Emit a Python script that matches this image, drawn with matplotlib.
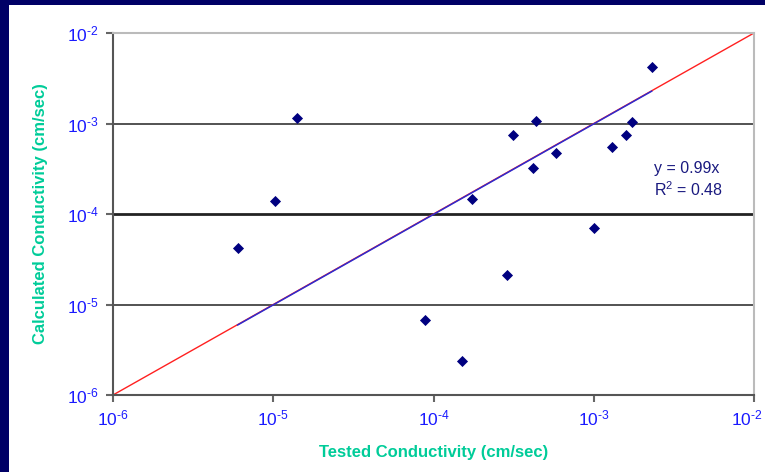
import matplotlib
matplotlib.use("Agg")
import matplotlib.pyplot as plt
from matplotlib.patches import Rectangle
from matplotlib.ticker import FixedLocator, NullLocator, FuncFormatter
from matplotlib.transforms import ScaledTranslation
import numpy as np

plt.rcParams['font.family'] = ['Liberation Sans', 'DejaVu Sans']
plt.rcParams['mathtext.fontset'] = 'custom'
plt.rcParams['mathtext.rm'] = 'Liberation Sans'
plt.rcParams['mathtext.it'] = 'Liberation Sans:italic'
plt.rcParams['mathtext.bf'] = 'Liberation Sans:bold'

# Data
tested = [6.0e-6, 1.02e-5, 1.41e-5, 8.8e-5, 1.5e-4, 1.74e-4, 2.87e-4, 3.13e-4,
          4.37e-4, 4.17e-4, 5.8e-4, 1.0e-3, 1.3e-3, 1.58e-3, 1.73e-3, 2.3e-3]
calculated = [4.2e-5, 1.39e-4, 1.15e-3, 6.7e-6, 2.4e-6, 1.47e-4, 2.1e-5, 7.46e-4,
              1.07e-3, 3.2e-4, 4.7e-4, 7.0e-5, 5.5e-4, 7.46e-4, 1.04e-3, 4.2e-3]
slope = 0.99
r_squared = 0.48
ticks = [1e-6, 1e-5, 1e-4, 1e-3, 1e-2]
x_label = "Tested Conductivity (cm/sec)"
y_label = "Calculated Conductivity (cm/sec)"

fig = plt.figure(figsize=(7.65, 4.72), dpi=100)
fig.patch.set_facecolor('#000066')
bg = Rectangle((9/765, 0), 1 - 9/765, 1 - 5/472,
               transform=fig.transFigure, facecolor='white',
               edgecolor='none', zorder=-10)
fig.add_artist(bg)

ax = fig.add_axes([113/765, 1 - 395/472, (754 - 113)/765, (395 - 33)/472])
ax.set_zorder(1)
ax.set_xscale('log')
ax.set_yscale('log')
ax.set_xlim(1e-6, 1e-2)
ax.set_ylim(1e-6, 1e-2)
ax.set_facecolor('white')

# horizontal gridlines
for t in ticks[1:4]:
    lw = 2.0 if t == 1e-4 else 1.3
    c = '#222222' if t == 1e-4 else '#444444'
    ax.axhline(t, color=c, lw=lw, zorder=1)

# 1:1 line (red)
ax.plot([1e-6, 1e-2], [1e-6, 1e-2], color='#ff2020', lw=1.0, zorder=2)
# trend line y = 0.99x (blue)
xt = np.array([min(tested), max(tested)])
ax.plot(xt, slope * xt, color='#2b2bd0', lw=1.1, zorder=3)

ax.scatter(tested, calculated, marker='D', s=32, color='#000080', zorder=4,
           linewidths=0)

for s in ['left', 'bottom']:
    ax.spines[s].set_color('#555555')
    ax.spines[s].set_linewidth(1.5)
for s in ['top', 'right']:
    ax.spines[s].set_color('#bbbbbb')
    ax.spines[s].set_linewidth(1.5)

ax.xaxis.set_major_locator(FixedLocator(ticks))
ax.yaxis.set_major_locator(FixedLocator(ticks))
ax.xaxis.set_minor_locator(NullLocator())
ax.yaxis.set_minor_locator(NullLocator())
fmt = FuncFormatter(lambda v, p: r'$\mathregular{10^{%s}}$'
                    % ('\u2010' + str(abs(int(round(np.log10(v)))))))
ax.xaxis.set_major_formatter(fmt)
ax.yaxis.set_major_formatter(fmt)
ax.tick_params(axis='both', which='major', direction='out', length=5, width=1.5,
               color='#666666', labelcolor='#1a1aff', labelsize=12.5)
ax.tick_params(axis='x', pad=5)
ax.tick_params(axis='y', pad=5)

ax.set_xlabel(x_label, color='#00cc99', fontsize=12, fontweight='bold', labelpad=12)
ax.set_ylabel(y_label, color='#00cc99', fontsize=12, fontweight='bold', labelpad=14)

# nudge last x tick label left so it stays inside the figure
fig.canvas.draw()
last = ax.get_xticklabels()[-1]
last.set_transform(last.get_transform() + ScaledTranslation(-7/100, 0, fig.dpi_scale_trans))

ax.text(0.844, 0.594, "y = %.2fx\nR$^2$ = %.2f" % (slope, r_squared),
        transform=ax.transAxes, color='#1a1a80', fontsize=11.5, va='center',
        ha='left', linespacing=1.3)

fig.savefig('out.png', dpi=100, facecolor=fig.get_facecolor())
